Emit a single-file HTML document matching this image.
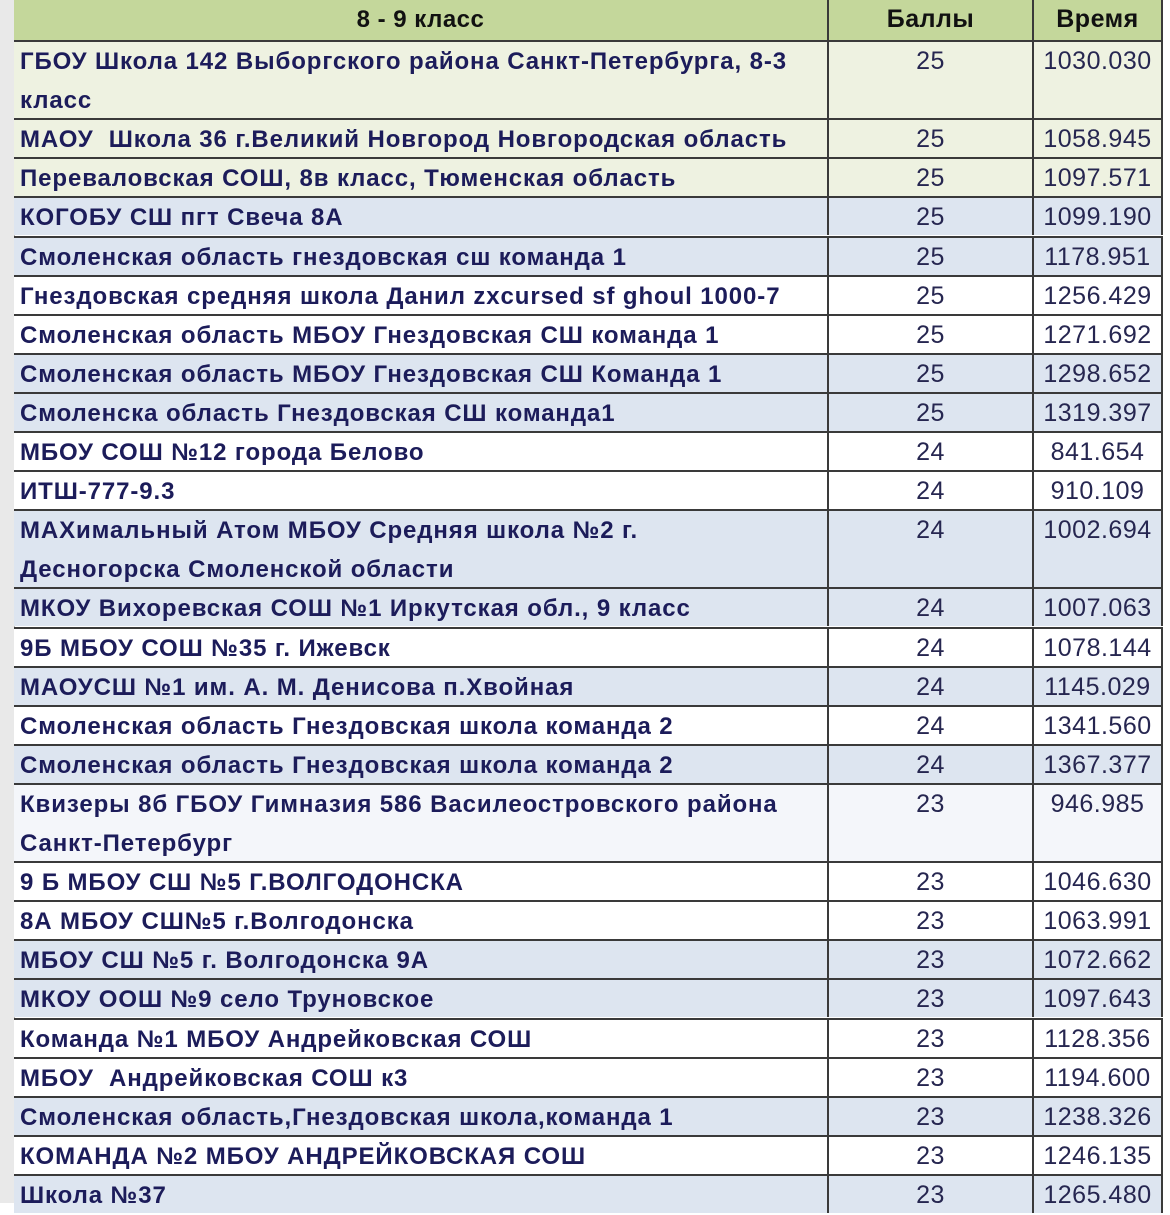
<!DOCTYPE html>
<html><head><meta charset="utf-8"><style>
body{margin:0;width:1170px;height:1203px;overflow:hidden;background:#fff;font-family:"Liberation Sans","DejaVu Sans",sans-serif;position:relative}
.r{position:absolute;left:14px;width:1149px;border-top:2px solid #3a3a3a;box-sizing:border-box}
.c{position:absolute;top:0;height:100%;box-sizing:border-box}
.n{left:0;width:813px;padding-left:6px;font-weight:bold;font-size:24px;letter-spacing:0.9px;color:#1c1c5a;line-height:39px;white-space:nowrap}
.b{left:813px;width:205px;border-left:2px solid #3a3a3a;text-align:center;font-size:25px;letter-spacing:0.5px;color:#262650;line-height:39px}
.t{left:1018px;width:131px;border-left:2px solid #3a3a3a;border-right:2px solid #3a3a3a;text-align:center;font-size:25px;letter-spacing:0.5px;color:#262650;line-height:39px}
.side{position:absolute;left:0;top:0;width:14px;height:1203px;background:#e9e9e9;border-right:1px solid #bbb}
</style></head><body>
<div class="side"></div>
<div id="t"></div>
<script>
const rows=[
["h","8 - 9 класс","Баллы","Время",1],
["c","ГБОУ Школа 142 Выборгского района Санкт-Петербурга, 8-3<br>класс","25","1030.030",2],
["c","МАОУ&nbsp; Школа 36 г.Великий Новгород Новгородская область","25","1058.945",1],
["c","Переваловская СОШ, 8в класс, Тюменская область","25","1097.571",1],
["b","КОГОБУ СШ пгт Свеча 8А","25","1099.190",1],
["b","Смоленская область гнездовская сш команда 1","25","1178.951",1],
["w","Гнездовская средняя школа Данил zxcursed sf ghoul 1000-7","25","1256.429",1],
["w","Смоленская область МБОУ Гнездовская СШ команда 1","25","1271.692",1],
["b","Смоленская область МБОУ Гнездовская СШ Команда 1","25","1298.652",1],
["b","Смоленска область Гнездовская СШ команда1","25","1319.397",1],
["w","МБОУ СОШ №12 города Белово","24","841.654",1],
["w","ИТШ-777-9.3","24","910.109",1],
["b","МАХимальный Атом МБОУ Средняя школа №2 г.<br>Десногорска Смоленской области","24","1002.694",2],
["b","МКОУ Вихоревская СОШ №1 Иркутская обл., 9 класс","24","1007.063",1],
["w","9Б МБОУ СОШ №35 г. Ижевск","24","1078.144",1],
["b","МАОУСШ №1 им. А. М. Денисова п.Хвойная","24","1145.029",1],
["w","Смоленская область Гнездовская школа команда 2","24","1341.560",1],
["b","Смоленская область Гнездовская школа команда 2","24","1367.377",1],
["q","Квизеры 8б ГБОУ Гимназия 586 Василеостровского района<br>Санкт-Петербург","23","946.985",2],
["w","9 Б МБОУ СШ №5 Г.ВОЛГОДОНСКА","23","1046.630",1],
["w","8А МБОУ СШ№5 г.Волгодонска","23","1063.991",1],
["b","МБОУ СШ №5 г. Волгодонска 9А","23","1072.662",1],
["b","МКОУ ООШ №9 село Труновское","23","1097.643",1],
["w","Команда №1 МБОУ Андрейковская СОШ","23","1128.356",1],
["w","МБОУ&nbsp; Андрейковская СОШ к3","23","1194.600",1],
["b","Смоленская область,Гнездовская школа,команда 1","23","1238.326",1],
["w","КОМАНДА №2 МБОУ АНДРЕЙКОВСКАЯ СОШ","23","1246.135",1],
["b","Школа №37","23","1265.480",1]];
const bg={h:"#c4d79b",c:"#eef2e1",b:"#dde5f0",w:"#ffffff",q:"#f4f6fa"};
let y=0,h="";
for(const r of rows){
 const H=r[0]=="h"?40:39.1*r[4];
 const st=r[0]=="h"?"color:#111;text-align:center;padding-left:0;letter-spacing:0.5px":"";
 const nc=r[0]=="h"?"color:#111;font-weight:bold;":"";
 h+=`<div class="r" style="top:${y}px;height:${H}px;background:${bg[r[0]]};${r[0]=="h"?"border-top:none":""}">
 <div class="c n" style="${st}">${r[1]}</div><div class="c b" style="${nc}">${r[2]}</div><div class="c t" style="${nc}">${r[3]}</div></div>`;
 y+=H;
}
document.getElementById("t").innerHTML=h;
</script>
</body></html>
